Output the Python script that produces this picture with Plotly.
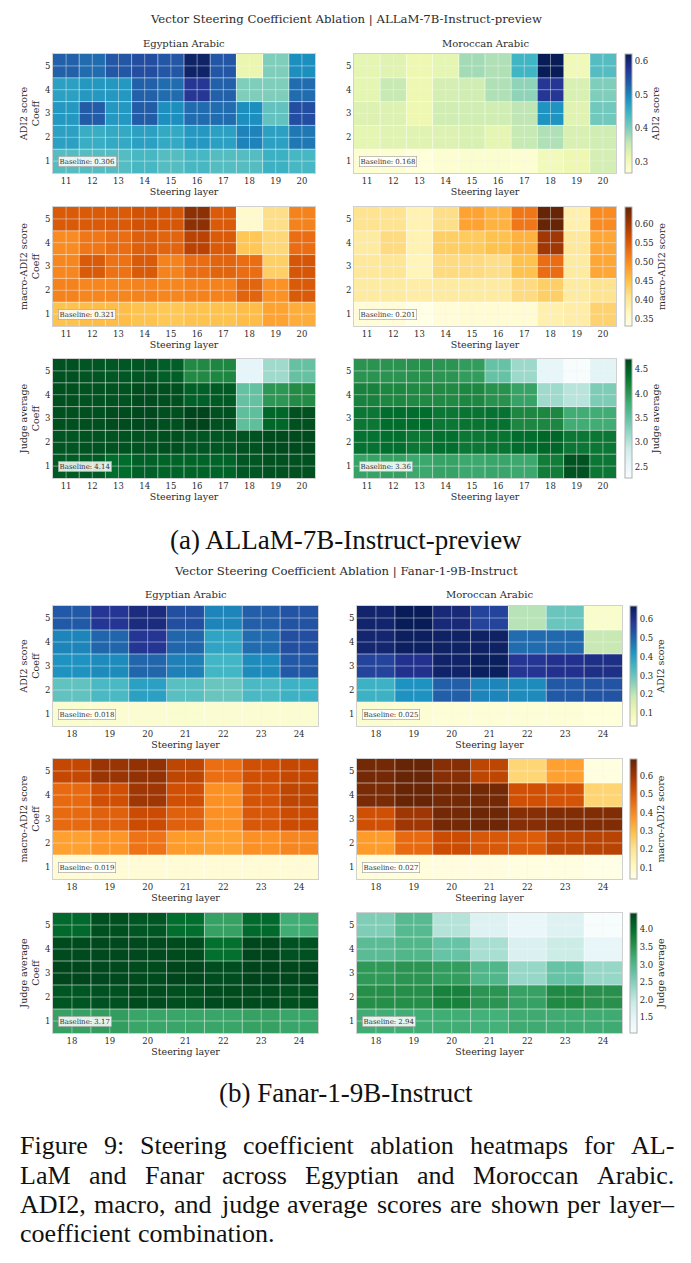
import plotly.graph_objects as go
import plotly.colors as pc

W, H = 691, 1263

# ---------------- data ----------------
layers_a = [11, 12, 13, 14, 15, 16, 17, 18, 19, 20]
layers_b = [18, 19, 20, 21, 22, 23, 24]
coeffs = [5, 4, 3, 2, 1]  # row order (top to bottom)

# (a) ALLaM-7B-Instruct-preview
a_egy_adi = [
    [0.53, 0.52, 0.54, 0.55, 0.54, 0.61, 0.54, 0.313, 0.40, 0.49],
    [0.47, 0.48, 0.48, 0.53, 0.52, 0.575, 0.53, 0.40, 0.40, 0.52],
    [0.48, 0.535, 0.48, 0.535, 0.49, 0.52, 0.52, 0.49, 0.42, 0.55],
    [0.47, 0.455, 0.46, 0.47, 0.46, 0.48, 0.47, 0.50, 0.47, 0.51],
    [0.43, 0.43, 0.43, 0.44, 0.43, 0.44, 0.43, 0.43, 0.45, 0.44]]
a_mor_adi = [
    [0.32, 0.325, 0.31, 0.32, 0.377, 0.37, 0.445, 0.621, 0.305, 0.43],
    [0.32, 0.355, 0.31, 0.34, 0.345, 0.37, 0.39, 0.575, 0.335, 0.40],
    [0.33, 0.33, 0.31, 0.345, 0.345, 0.345, 0.36, 0.485, 0.325, 0.41],
    [0.32, 0.325, 0.325, 0.33, 0.335, 0.32, 0.355, 0.37, 0.335, 0.345],
    [0.275, 0.275, 0.267, 0.275, 0.28, 0.28, 0.275, 0.30, 0.31, 0.34]]
a_egy_mac = [
    [0.55, 0.55, 0.55, 0.56, 0.555, 0.615, 0.55, 0.355, 0.415, 0.51],
    [0.50, 0.52, 0.53, 0.545, 0.54, 0.58, 0.55, 0.445, 0.425, 0.53],
    [0.505, 0.55, 0.525, 0.55, 0.51, 0.53, 0.54, 0.53, 0.435, 0.555],
    [0.51, 0.505, 0.505, 0.51, 0.505, 0.51, 0.51, 0.54, 0.495, 0.55],
    [0.45, 0.455, 0.455, 0.45, 0.445, 0.45, 0.45, 0.455, 0.48, 0.47]]
a_mor_mac = [
    [0.41, 0.41, 0.38, 0.415, 0.48, 0.465, 0.52, 0.644, 0.385, 0.50],
    [0.395, 0.42, 0.38, 0.435, 0.44, 0.45, 0.465, 0.60, 0.40, 0.475],
    [0.40, 0.405, 0.375, 0.42, 0.42, 0.415, 0.45, 0.53, 0.395, 0.475],
    [0.395, 0.395, 0.39, 0.395, 0.395, 0.395, 0.42, 0.435, 0.395, 0.41],
    [0.345, 0.345, 0.332, 0.345, 0.35, 0.35, 0.35, 0.385, 0.39, 0.43]]
a_egy_jud = [
    [4.61, 4.58, 4.57, 4.58, 4.52, 4.12, 4.15, 2.56, 3.15, 3.50],
    [4.63, 4.60, 4.60, 4.65, 4.63, 4.50, 4.55, 3.50, 4.00, 4.10],
    [4.63, 4.63, 4.65, 4.68, 4.63, 4.71, 4.62, 3.55, 4.45, 4.62],
    [4.58, 4.60, 4.60, 4.60, 4.63, 4.58, 4.58, 4.60, 4.66, 4.66],
    [4.55, 4.55, 4.40, 4.50, 4.48, 4.48, 4.48, 4.57, 4.62, 4.62]]
a_mor_jud = [
    [4.03, 4.03, 4.05, 4.02, 3.95, 3.49, 3.17, 2.55, 2.27, 2.60],
    [4.20, 4.15, 4.12, 4.12, 4.15, 4.05, 3.90, 3.15, 3.00, 3.35],
    [4.30, 4.40, 4.40, 4.30, 4.33, 4.35, 4.15, 4.15, 3.80, 3.80],
    [4.35, 4.38, 4.30, 4.38, 4.30, 4.33, 4.40, 4.45, 4.30, 4.30],
    [3.90, 3.92, 3.85, 3.90, 3.85, 3.87, 3.85, 4.25, 4.60, 4.30]]

# (b) Fanar-1-9B-Instruct
b_egy_adi = [
    [0.52, 0.59, 0.62, 0.54, 0.45, 0.51, 0.53],
    [0.45, 0.50, 0.59, 0.50, 0.39, 0.49, 0.54],
    [0.43, 0.44, 0.50, 0.46, 0.35, 0.44, 0.52],
    [0.31, 0.34, 0.40, 0.32, 0.30, 0.34, 0.36],
    [0.055, 0.05, 0.05, 0.055, 0.05, 0.05, 0.05]]
b_mor_adi = [
    [0.645, 0.671, 0.63, 0.56, 0.21, 0.30, 0.06],
    [0.64, 0.66, 0.655, 0.655, 0.49, 0.495, 0.19],
    [0.56, 0.60, 0.65, 0.665, 0.59, 0.60, 0.61],
    [0.36, 0.43, 0.51, 0.45, 0.44, 0.52, 0.53],
    [0.05, 0.045, 0.04, 0.04, 0.04, 0.04, 0.032]]
b_egy_mac = [
    [0.54, 0.61, 0.62, 0.55, 0.45, 0.52, 0.54],
    [0.46, 0.52, 0.60, 0.52, 0.38, 0.51, 0.55],
    [0.46, 0.48, 0.53, 0.48, 0.38, 0.50, 0.53],
    [0.35, 0.37, 0.44, 0.36, 0.35, 0.38, 0.40],
    [0.07, 0.07, 0.07, 0.07, 0.07, 0.07, 0.07]]
b_mor_mac = [
    [0.67, 0.691, 0.64, 0.55, 0.235, 0.35, 0.05],
    [0.66, 0.69, 0.67, 0.67, 0.52, 0.51, 0.24],
    [0.52, 0.60, 0.67, 0.68, 0.64, 0.65, 0.65],
    [0.36, 0.46, 0.53, 0.50, 0.49, 0.55, 0.56],
    [0.06, 0.06, 0.055, 0.055, 0.05, 0.05, 0.039]]
b_egy_jud = [
    [4.08, 4.36, 4.28, 4.03, 3.35, 4.08, 3.20],
    [4.40, 4.43, 4.43, 4.40, 4.00, 4.45, 4.33],
    [4.45, 4.43, 4.40, 4.46, 4.38, 4.47, 4.45],
    [4.28, 4.33, 4.40, 4.36, 4.40, 4.40, 4.36],
    [3.35, 3.40, 3.30, 3.30, 3.30, 3.35, 3.30]]
b_mor_jud = [
    [2.55, 2.95, 2.10, 1.60, 1.35, 1.60, 1.05],
    [2.90, 3.00, 2.75, 2.20, 1.65, 1.90, 1.40],
    [3.45, 3.50, 3.40, 3.00, 2.35, 2.75, 2.35],
    [3.58, 3.58, 3.75, 3.50, 3.35, 3.65, 3.55],
    [3.20, 3.20, 3.20, 3.15, 3.22, 3.22, 3.22]]

baselines_a = {"adi": ("0.306", "0.168"), "mac": ("0.321", "0.201"), "jud": ("4.14", "3.36")}
baselines_b = {"adi": ("0.018", "0.025"), "mac": ("0.019", "0.027"), "jud": ("3.17", "2.94")}

metric_names = {"adi": "ADI2 score", "mac": "macro-ADI2 score", "jud": "Judge average"}
metric_scales = {"adi": pc.sequential.YlGnBu, "mac": pc.sequential.YlOrBr, "jud": pc.sequential.BuGn}
cb_ticks_a = {"adi": (0.1, ".1f"), "mac": (0.05, ".2f"), "jud": (0.5, ".1f")}
cb_ticks_b = {"adi": (0.1, ".1f"), "mac": (0.1, ".1f"), "jud": (0.5, ".1f")}

caption_lines = [
    "Figure 9:  Steering coefficient ablation heatmaps for AL-",
    "LaM and Fanar across Egyptian and Moroccan Arabic.",
    "ADI2, macro, and judge average scores are shown per layer–",
    "coefficient combination.",
]

FONT = "DejaVu Serif"
CAP_FONT = "Liberation Serif"
CAP_SIZE = 26
TXT = "#2b2b2b"
GRID = "rgba(255,255,255,0.55)"
GRID_C = "rgba(245,245,245,0.45)"

# ---------------- layout geometry (pixels) ----------------
groups = [
    dict(title="Vector Steering Coefficient Ablation | ALLaM-7B-Instruct-preview",
         title_y=19, sub_y=44, layers=layers_a,
         xl=(53, 315), xr=(354, 616), cbx=625,
         rows=[(54, 173), (207, 326), (359, 478)],
         data={"adi": (a_egy_adi, a_mor_adi), "mac": (a_egy_mac, a_mor_mac), "jud": (a_egy_jud, a_mor_jud)},
         base=baselines_a, ticks=cb_ticks_a,
         caption="(a) ALLaM-7B-Instruct-preview", cap_y=540),
    dict(title="Vector Steering Coefficient Ablation | Fanar-1-9B-Instruct",
         title_y=571, sub_y=595, layers=layers_b,
         xl=(53, 318), xr=(357, 622), cbx=630,
         rows=[(606, 726), (759, 879), (913, 1033)],
         data={"adi": (b_egy_adi, b_mor_adi), "mac": (b_egy_mac, b_mor_mac), "jud": (b_egy_jud, b_mor_jud)},
         base=baselines_b, ticks=cb_ticks_b,
         caption="(b) Fanar-1-9B-Instruct", cap_y=1093),
]

fig = go.Figure()
layout = {}
annotations = []
shapes = []
idx = 0
cax = 0

def fx(px):
    return px / W

def fy(py):
    return 1 - py / H

for g in groups:
    annotations.append(dict(text=g["title"], x=0.5, y=fy(g["title_y"]), xref="paper", yref="paper",
                            showarrow=False, font=dict(family=FONT, size=11.7, color=TXT),
                            xanchor="center", yanchor="middle"))
    for (x0, x1), name in [(g["xl"], "Egyptian Arabic"), (g["xr"], "Moroccan Arabic")]:
        annotations.append(dict(text=name, x=fx((x0 + x1) / 2), y=fy(g["sub_y"]), xref="paper", yref="paper",
                                showarrow=False, font=dict(family=FONT, size=10, color=TXT),
                                xanchor="center", yanchor="middle"))
    annotations.append(dict(text=g["caption"], x=0.5, y=fy(g["cap_y"]), xref="paper", yref="paper",
                            showarrow=False, font=dict(family=CAP_FONT, size=27, color="#111"),
                            xanchor="center", yanchor="middle"))
    layers = g["layers"]
    for (ry0, ry1), key in zip(g["rows"], ["adi", "mac", "jud"]):
        cax += 1
        cname = "coloraxis" if cax == 1 else f"coloraxis{cax}"
        zl, zr = g["data"][key]
        allv = [v for row in zl + zr for v in row]
        dt, fmt = g["ticks"][key]
        layout[cname] = dict(
            colorscale=metric_scales[key], cmin=min(allv), cmax=max(allv),
            colorbar=dict(x=fx(g["cbx"]), xanchor="left", xpad=0, ypad=0,
                          y=fy((ry0 + ry1) / 2), yanchor="middle",
                          len=(ry1 - ry0) / H, lenmode="fraction", thickness=7, thicknessmode="pixels",
                          outlinecolor="#b0b0b0", outlinewidth=1, ticks="", dtick=dt, tickformat=fmt,
                          tickfont=dict(family=FONT, size=8.5, color=TXT),
                          title=dict(text=metric_names[key], side="right",
                                     font=dict(family=FONT, size=9.5, color=TXT))))
        for side, z, (x0, x1), base in [("L", zl, g["xl"], g["base"][key][0]),
                                         ("R", zr, g["xr"], g["base"][key][1])]:
            idx += 1
            xn = "x" if idx == 1 else f"x{idx}"
            yn = "y" if idx == 1 else f"y{idx}"
            fig.add_trace(go.Heatmap(z=z, x=layers, y=coeffs, coloraxis=cname, xaxis=xn, yaxis=yn))
            xa = "xaxis" if idx == 1 else f"xaxis{idx}"
            ya = "yaxis" if idx == 1 else f"yaxis{idx}"
            layout[xa] = dict(domain=[fx(x0), fx(x1)], anchor=yn,
                              range=[layers[0] - 0.5, layers[-1] + 0.5], tickvals=layers,
                              ticks="", showgrid=False, zeroline=False,
                              showline=True, linecolor="rgba(190,190,190,0.7)", mirror=True,
                              tickfont=dict(family=FONT, size=8.5, color=TXT),
                              title=dict(text="Steering layer", standoff=3,
                                         font=dict(family=FONT, size=9.5, color=TXT)))
            ytitle = (metric_names[key] + "<br>Coeff") if side == "L" else ""
            layout[ya] = dict(domain=[fy(ry1), fy(ry0)], anchor=xn,
                              range=[0.5, 5.5], tickvals=coeffs, ticks="", showgrid=False,
                              zeroline=False, showline=True, linecolor="rgba(190,190,190,0.7)", mirror=True,
                              tickfont=dict(family=FONT, size=8.5, color=TXT),
                              title=dict(text=ytitle, standoff=3,
                                         font=dict(family=FONT, size=9.5, color=TXT)))
            # cell borders and centre grid lines (seaborn whitegrid look)
            for lv in layers:
                shapes.append(dict(type="line", xref=xn, yref=f"{yn} domain", x0=lv, x1=lv, y0=0, y1=1,
                                   line=dict(color=GRID_C, width=1), layer="above"))
            for lv in layers[1:]:
                shapes.append(dict(type="line", xref=xn, yref=f"{yn} domain", x0=lv - 0.5, x1=lv - 0.5,
                                   y0=0, y1=1, line=dict(color=GRID, width=1), layer="above"))
            for cv in coeffs:
                shapes.append(dict(type="line", xref=f"{xn} domain", yref=yn, x0=0, x1=1, y0=cv, y1=cv,
                                   line=dict(color=GRID_C, width=1), layer="above"))
            for cv in coeffs[:-1]:
                shapes.append(dict(type="line", xref=f"{xn} domain", yref=yn, x0=0, x1=1,
                                   y0=cv - 0.5, y1=cv - 0.5, line=dict(color=GRID, width=1), layer="above"))
            annotations.append(dict(text=f"Baseline: {base}", xref=f"{xn} domain", yref=yn,
                                    x=0.02, y=1, xanchor="left", yanchor="middle", showarrow=False,
                                    font=dict(family=FONT, size=7, color="#333"),
                                    bgcolor="rgba(255,255,255,0.85)", bordercolor="#9a9a9a",
                                    borderwidth=0.6, borderpad=1))

# ---------------- justified figure caption ----------------
# Times-compatible advance widths (per 1000 em) for justifying the caption text
TW = {' ': 250, 'a': 444, 'b': 500, 'c': 444, 'd': 500, 'e': 444, 'f': 333, 'g': 500, 'h': 500,
      'i': 278, 'j': 278, 'k': 500, 'l': 278, 'm': 778, 'n': 500, 'o': 500, 'p': 500, 'q': 500,
      'r': 333, 's': 389, 't': 278, 'u': 500, 'v': 500, 'w': 722, 'x': 500, 'y': 500, 'z': 444,
      'A': 722, 'B': 667, 'C': 667, 'D': 722, 'E': 611, 'F': 556, 'G': 722, 'H': 722, 'I': 333,
      'L': 611, 'M': 889, 'N': 722, 'R': 667, 'S': 556, 'T': 611, ':': 278, ',': 250, '.': 250,
      '-': 333, '–': 500, '(': 333, ')': 333}

def word_w(wd):
    return sum(TW.get(ch, 500) for ch in wd) * CAP_SIZE / 1000.0

left_px, right_px = 18, 672
cap_ys = [1145, 1175, 1204, 1233]
for li, (line, cy) in enumerate(zip(caption_lines, cap_ys)):
    words = line.split()
    widths = [word_w(wd) for wd in words]
    if li < len(caption_lines) - 1 and len(words) > 1:
        gap = (right_px - left_px - sum(widths)) / (len(words) - 1)
    else:
        gap = TW[' '] * CAP_SIZE / 1000.0
    xpos = left_px
    for wd, wdw in zip(words, widths):
        annotations.append(dict(text=wd, x=fx(xpos), y=fy(cy), xref="paper", yref="paper",
                                showarrow=False, xanchor="left", yanchor="middle",
                                font=dict(family=CAP_FONT, size=CAP_SIZE, color="#111")))
        xpos += wdw + gap

fig.update_layout(width=W, height=H, margin=dict(l=0, r=0, t=0, b=0),
                  paper_bgcolor="white", plot_bgcolor="white",
                  annotations=annotations, shapes=shapes, **layout)

fig.write_html("out.html")
